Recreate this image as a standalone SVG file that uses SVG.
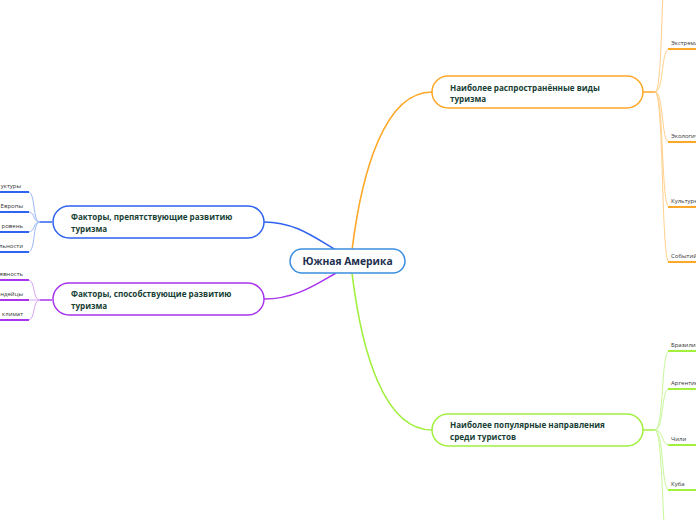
<svg xmlns="http://www.w3.org/2000/svg" width="696" height="520" viewBox="0 0 696 520">
<style>
.bg{fill:#ffffff}
.node rect{fill:#ffffff;stroke-width:1.5}
.main{font-family:"Open Sans","Noto Sans",sans-serif;font-weight:bold;font-size:8.1px;fill:#173f35}
.center{font-family:"Open Sans","Noto Sans",sans-serif;font-weight:bold;font-size:10.3px;fill:#1d2f4f}
.leaf{font-family:"Open Sans","Noto Sans",sans-serif;font-size:6px;fill:#333333}
.c{fill:none}
.o{stroke:#ffa726}
.ol{stroke:#ffd08a}
.g{stroke:#a0f03c}
.gl{stroke:#c8f79a}
.b{stroke:#2f63f0}
.bl{stroke:#9ab7f5}
.p{stroke:#a934ee}
.pl{stroke:#d7a4f5}
</style>
<rect class="bg" x="0" y="0" width="696" height="520"/>
<g id="connectors">
  <path class="c o" stroke-width="1.6" d="M352,250 C 362,170 385,92 432,92"/>
  <path class="c g" stroke-width="1.6" d="M352,273 C 362,355 385,430 432,430"/>
  <path class="c b" stroke-width="1.6" d="M264,222 C 295,222 315,238 336,250"/>
  <path class="c p" stroke-width="1.6" d="M264,299 C 295,299 315,285 336,273"/>
  <!-- orange branch -->
  <path class="c o" stroke-width="1.5" d="M643,92 L655,92"/>
  <path class="c ol" stroke-width="1" d="M655,92 C 664,92 660,-60 670,-60"/>
  <path class="c ol" stroke-width="1" d="M655,92 C 664,92 661,49 669,49"/>
  <path class="c ol" stroke-width="1" d="M655,92 C 664,92 661,142 669,142"/>
  <path class="c ol" stroke-width="1" d="M655,92 C 664,92 661,207 669,207"/>
  <path class="c ol" stroke-width="1" d="M655,92 C 664,92 661,262 669,262"/>
  <path class="c o" stroke-width="2" d="M668,49 L696,49 M668,142 L696,142 M668,207 L696,207 M668,262 L696,262"/>
  <!-- green branch -->
  <path class="c g" stroke-width="1.5" d="M643,430 L655,430"/>
  <path class="c gl" stroke-width="1" d="M655,430 C 664,430 661,351 669,351"/>
  <path class="c gl" stroke-width="1" d="M655,430 C 664,430 661,389 669,389"/>
  <path class="c gl" stroke-width="1" d="M655,430 C 664,430 661,445 669,445"/>
  <path class="c gl" stroke-width="1" d="M655,430 C 664,430 661,490 669,490"/>
  <path class="c gl" stroke-width="1" d="M655,430 C 664,430 662,570 670,570"/>
  <path class="c g" stroke-width="2" d="M668,351 L696,351 M668,389 L696,389 M668,445 L696,445 M668,490 L696,490"/>
  <!-- blue branch -->
  <path class="c b" stroke-width="1.5" d="M52,222 L40,222"/>
  <path class="c bl" stroke-width="1" d="M40,222 C 32,222 36,192 28,192"/>
  <path class="c bl" stroke-width="1" d="M40,222 C 32,222 36,212 28,212"/>
  <path class="c bl" stroke-width="1" d="M40,222 C 32,222 36,232 28,232"/>
  <path class="c bl" stroke-width="1" d="M40,222 C 32,222 36,252 28,252"/>
  <path class="c b" stroke-width="2" d="M0,192 L29,192 M0,212 L29,212 M0,232 L29,232 M0,252 L29,252"/>
  <!-- purple branch -->
  <path class="c p" stroke-width="1.5" d="M52,300 L40,300"/>
  <path class="c pl" stroke-width="1" d="M40,300 C 32,300 36,280 28,280"/>
  <path class="c pl" stroke-width="1" d="M40,300 C 33,300 35,300 28,300"/>
  <path class="c pl" stroke-width="1" d="M40,300 C 32,300 36,320 28,320"/>
  <path class="c p" stroke-width="2" d="M0,280 L29,280 M0,300 L29,300 M0,320 L29,320"/>
</g>
<g id="center" class="node">
  <rect x="290" y="249" width="115" height="24" rx="12" stroke="#3b8ee0" stroke-width="1"/>
  <text class="center" x="347.5" y="265" text-anchor="middle">Южная Америка</text>
</g>
<g id="n-types" class="node">
  <rect x="432" y="76" width="211" height="32" rx="16" stroke="#ffa726"/>
  <text class="main" x="450" y="91">Наиболее распространённые виды</text>
  <text class="main" x="450" y="102">туризма</text>
</g>
<g id="n-dest" class="node">
  <rect x="432" y="414" width="211" height="32" rx="16" stroke="#a0f03c"/>
  <text class="main" x="450" y="428">Наиболее популярные направления</text>
  <text class="main" x="450" y="440">среди туристов</text>
</g>
<g id="n-hinder" class="node">
  <rect x="53" y="206" width="211" height="32" rx="16" stroke="#2f63f0"/>
  <text class="main" x="71" y="220">Факторы, препятствующие развитию</text>
  <text class="main" x="71" y="232">туризма</text>
</g>
<g id="n-help" class="node">
  <rect x="53" y="283" width="211" height="32" rx="16" stroke="#a934ee"/>
  <text class="main" x="71" y="297">Факторы, способствующие развитию</text>
  <text class="main" x="71" y="309">туризма</text>
</g>
<g id="leaf-extreme"><text class="leaf" x="671" y="45">Экстремальный</text></g>
<g id="leaf-eco"><text class="leaf" x="671" y="138">Экологический</text></g>
<g id="leaf-cult"><text class="leaf" x="671" y="203">Культурный</text></g>
<g id="leaf-event"><text class="leaf" x="671" y="258">Событийный</text></g>
<g id="leaf-brazil"><text class="leaf" x="671" y="347">Бразилия</text></g>
<g id="leaf-arg"><text class="leaf" x="671" y="385">Аргентина</text></g>
<g id="leaf-chile"><text class="leaf" x="671" y="441">Чили</text></g>
<g id="leaf-cuba"><text class="leaf" x="671" y="486">Куба</text></g>
<g id="leaf-b1"><text class="leaf" x="21" y="188" text-anchor="end">уктуры</text></g>
<g id="leaf-b2"><text class="leaf" x="23" y="208" text-anchor="end">Европы</text></g>
<g id="leaf-b3"><text class="leaf" x="23" y="228" text-anchor="end">ровень</text></g>
<g id="leaf-b4"><text class="leaf" x="23" y="248" text-anchor="end">льности</text></g>
<g id="leaf-p1"><text class="leaf" x="23" y="276" text-anchor="end">явность</text></g>
<g id="leaf-p2"><text class="leaf" x="23" y="296" text-anchor="end">ндейцы</text></g>
<g id="leaf-p3"><text class="leaf" x="23" y="316" text-anchor="end">климат</text></g>
</svg>
